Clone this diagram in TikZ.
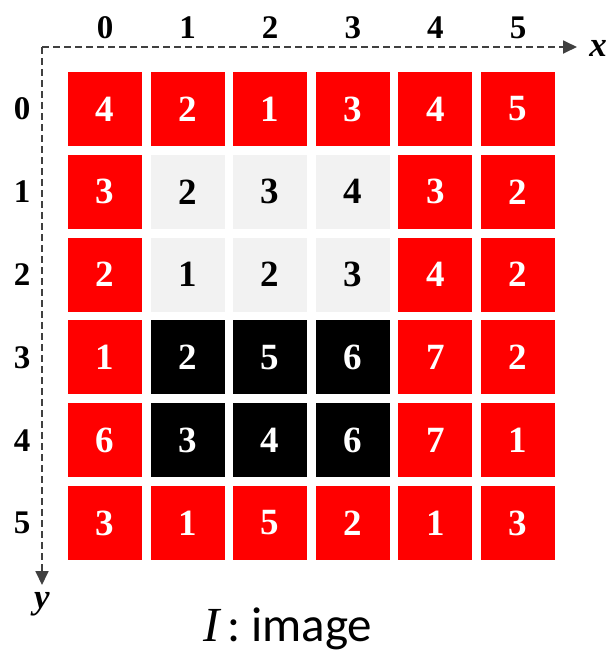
\documentclass[tikz,border=0pt]{standalone}
\usepackage{fontspec}
\setmainfont{Liberation Serif}
\newfontfamily\capfont{Carlito}
\usetikzlibrary{arrows.meta}
\definecolor{cellred}{HTML}{FF0000}
\definecolor{cellgray}{HTML}{F2F2F2}
\definecolor{axisgray}{HTML}{404040}
\tikzset{
  cell/.style={fill=#1,minimum width=74pt,minimum height=74pt,inner sep=0pt,font=\fontsize{37}{40}\selectfont\bfseries},
  redcell/.style={cell=cellred,text=white},
  lightcell/.style={cell=cellgray,text=black},
  darkcell/.style={cell=black,text=white},
  idx/.style={font=\fontsize{33}{36}\selectfont\bfseries,inner sep=0pt},
  axis/.style={draw=axisgray,line width=1.8pt,dash pattern=on 7pt off 4pt,-{Triangle[length=14pt,width=13pt]}},
  axlbl/.style={font=\fontsize{35}{38}\selectfont\bfseries\itshape,inner sep=0pt},
}
\begin{document}
\begin{tikzpicture}[x=1pt,y=-1pt]
  \useasboundingbox (0,0) rectangle (612,654);
  % axes
  \coordinate (o) at (42,47);
  \coordinate (xend) at (577,47);
  \coordinate (yend) at (42,585);
  \draw[axis] (o) -- (xend);
  \draw[axis] (o) -- (yend);
  \node[axlbl] (xlbl) at (598,48) {x};
  \node[axlbl] (ylbl) at (42,604) {y};
  % indices
  \foreach \c in {0,...,5} {
    \node[idx] (col\c) at ({105+82.6*\c},28) {\c};
    \node[idx] (row\c) at (22,{109+82.8*\c}) {\c};
  }
  % pixels
  \foreach \r/\vals in {
    0/{4/redcell,2/redcell,1/redcell,3/redcell,4/redcell,5/redcell},
    1/{3/redcell,2/lightcell,3/lightcell,4/lightcell,3/redcell,2/redcell},
    2/{2/redcell,1/lightcell,2/lightcell,3/lightcell,4/redcell,2/redcell},
    3/{1/redcell,2/darkcell,5/darkcell,6/darkcell,7/redcell,2/redcell},
    4/{6/redcell,3/darkcell,4/darkcell,6/darkcell,7/redcell,1/redcell},
    5/{3/redcell,1/redcell,5/redcell,2/redcell,1/redcell,3/redcell}} {
    \foreach \v/\k [count=\c from 0] in \vals {
      \node[\k] (p\r\c) at ({105+82.6*\c},{109+82.8*\r}) {\v};
    }
  }
  \node[anchor=base,inner sep=0pt,font=\fontsize{49}{52}\selectfont] (cap) at (288,641) {\textit{I}\hspace{5pt}\capfont:\ image};
\end{tikzpicture}
\end{document}
